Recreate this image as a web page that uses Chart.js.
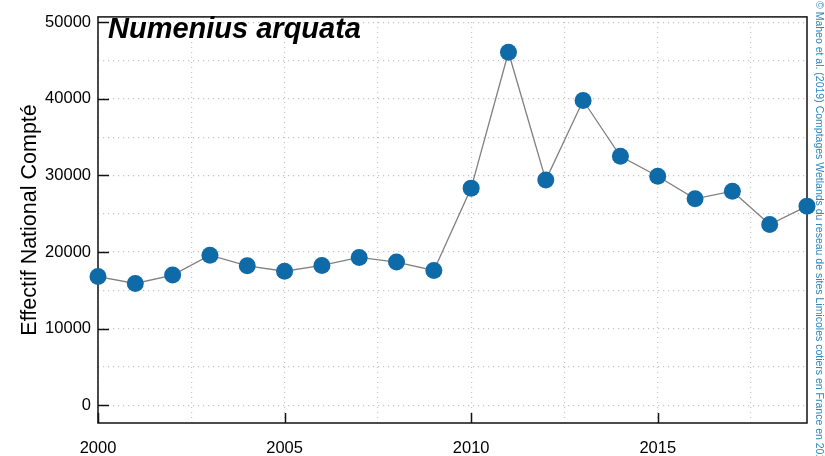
<!DOCTYPE html>
<html>
<head>
<meta charset="utf-8">
<script src="https://cdn.jsdelivr.net/npm/chart.js@4.4.1/dist/chart.umd.min.js"></script>
<style>
html,body{margin:0;padding:0;background:#fff;}
#wrap{width:825px;height:456px;position:relative;}
</style>
</head>
<body>
<div id="wrap"><canvas id="c" width="825" height="456"></canvas></div>
<script>
const years = [2000,2001,2002,2003,2004,2005,2006,2007,2008,2009,2010,2011,2012,2013,2014,2015,2016,2017,2018,2019];
const counts = [16800,15900,17000,19600,18200,17500,18250,19300,18700,17600,28350,46100,29400,39800,32500,29900,26950,27950,23600,26000];
const yTicks = [0,5000,10000,15000,20000,25000,30000,35000,40000,45000,50000];
const xTicks = [2000,2002.5,2005,2007.5,2010,2012.5,2015,2017.5];
const yLabelled = [0,10000,20000,30000,40000,50000];
const xLabelled = [2000,2005,2010,2015];
const speciesTitle = 'Numenius arquata';
const yAxisTitle = 'Effectif National Compté';
const credit = '© Maheo et al. (2019) Comptages Wetlands du reseau de sites Limicoles cotiers en France en 2019';

Chart.defaults.font.family = '"Liberation Sans", Arial, sans-serif';
Chart.defaults.color = '#000';

const framePlugin = {
  id: 'frame',
  beforeDatasetsDraw(chart) {
    const {ctx, chartArea: a, scales} = chart;
    ctx.save();
    ctx.strokeStyle = '#111';
    ctx.lineWidth = 1.5;
    ctx.strokeRect(a.left, a.top, a.right - a.left, a.bottom - a.top);
    ctx.beginPath();
    yLabelled.forEach(v => {
      const y = Math.round(scales.y.getPixelForValue(v)) + 0.5;
      ctx.moveTo(a.left, y); ctx.lineTo(a.left + 11, y);
    });
    xLabelled.forEach(v => {
      const x = Math.round(scales.x.getPixelForValue(v)) + 0.5;
      ctx.moveTo(x, a.bottom); ctx.lineTo(x, a.bottom - 10);
    });
    ctx.stroke();
    ctx.fillStyle = '#000';
    ctx.font = 'italic bold 29px "Liberation Sans", Arial, sans-serif';
    ctx.textBaseline = 'alphabetic';
    ctx.textAlign = 'left';
    ctx.fillText(speciesTitle, 108, 38);
    ctx.restore();
  },
  afterDraw(chart) {
    const {ctx} = chart;
    ctx.save();
    ctx.translate(816, 1);
    ctx.rotate(Math.PI / 2);
    ctx.fillStyle = '#2E86C1';
    ctx.font = '10.5px "Liberation Sans", Arial, sans-serif';
    ctx.textAlign = 'left';
    ctx.textBaseline = 'alphabetic';
    ctx.fillText(credit, 0, 0);
    ctx.restore();
  }
};

new Chart(document.getElementById('c'), {
  type: 'line',
  data: {
    datasets: [{
      data: years.map((y, i) => ({x: y, y: counts[i]})),
      borderColor: '#808080',
      borderWidth: 1.3,
      pointRadius: 8.5,
      pointHoverRadius: 8.5,
      pointBackgroundColor: '#0E6BA8',
      pointBorderColor: '#0E6BA8',
      pointBorderWidth: 0,
      tension: 0,
      clip: false
    }]
  },
  options: {
    responsive: false,
    animation: false,
    events: [],
    layout: {padding: {left: 0, top: 12, right: 18, bottom: 0}},
    plugins: {legend: {display: false}, tooltip: {enabled: false}},
    scales: {
      x: {
        type: 'linear',
        min: 2000, max: 2019,
        afterBuildTicks: s => { s.ticks = xTicks.map(v => ({value: v})); },
        afterFit: s => { s.height = 33; },
        ticks: {
          autoSkip: false, maxRotation: 0, padding: 16,
          font: {size: 16.5},
          callback: v => xLabelled.includes(v) ? String(v) : ''
        },
        grid: {color: '#c4c4c4', lineWidth: 1.2, drawTicks: false},
        border: {display: false, dash: [1.2, 3.8]}
      },
      y: {
        type: 'linear',
        min: -2320, max: 50710,
        afterBuildTicks: s => { s.ticks = yTicks.map(v => ({value: v})); },
        afterFit: s => { s.width = 98; },
        ticks: {
          autoSkip: false, padding: 7,
          font: {size: 16.5},
          callback: v => yLabelled.includes(v) ? String(v) : ''
        },
        grid: {color: '#c4c4c4', lineWidth: 1.2, drawTicks: false},
        border: {display: false, dash: [1.2, 3.8]},
        title: {display: true, text: yAxisTitle, font: {size: 21.5}, padding: {top: 17, bottom: 0}}
      }
    }
  },
  plugins: [framePlugin]
});
</script>
</body>
</html>
